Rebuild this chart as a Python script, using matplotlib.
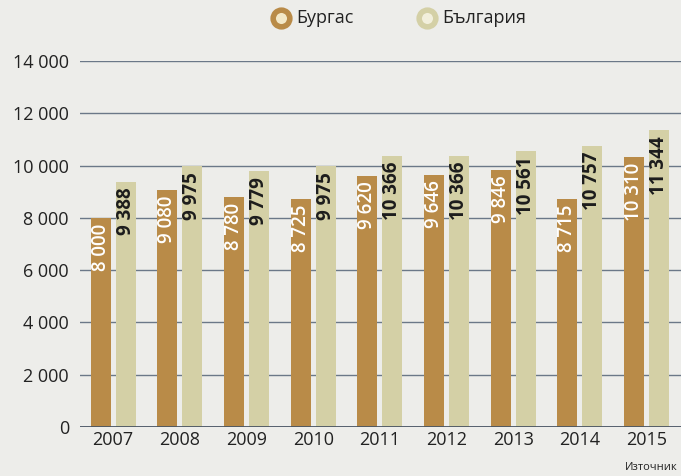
import numpy as np
import matplotlib.pyplot as plt

# данни
years = ["2007", "2008", "2009", "2010", "2011", "2012", "2013", "2014", "2015"]
burgas = [8000, 9080, 8780, 8725, 9620, 9646, 9846, 8715, 10310]
bulgaria = [9388, 9975, 9779, 9975, 10366, 10366, 10561, 10757, 11344]
yticks = [0, 2000, 4000, 6000, 8000, 10000, 12000, 14000]

c_burgas = "#b98b48"
c_bg = "#d4d0a6"
c_grid = "#6b7888"
bg = "#ededea"

plt.rcParams['font.family'] = ['Open Sans', 'DejaVu Sans']


def fmt(v):
    return f"{v:,}".replace(",", " ")


fig = plt.figure(figsize=(6.81, 4.76), dpi=100, facecolor=bg)
ax = fig.add_axes([80 / 681, 1 - 427 / 476, 601 / 681, 366 / 476], facecolor=bg)

x = np.arange(len(years))
w = 0.30
off = 0.1875

for yv in yticks[1:]:
    ax.axhline(yv, color=c_grid, lw=1.0, zorder=0)

ax.bar(x - off, burgas, w, color=c_burgas, zorder=2)
ax.bar(x + off, bulgaria, w, color=c_bg, zorder=2)
ax.axhline(0, color="#4a5563", lw=1.3, zorder=3)

for i in range(len(years)):
    ax.text(x[i] - off, burgas[i] - 220, fmt(burgas[i]), rotation=90,
            ha="center", va="top", color="white", fontsize=13.5,
            fontweight="semibold", zorder=4)
    ax.text(x[i] + off, bulgaria[i] - 220, fmt(bulgaria[i]), rotation=90,
            ha="center", va="top", color="#1c1c1c", fontsize=13.5,
            fontweight="bold", zorder=4)

ax.set_xlim(-0.495, 8.515)
ax.set_ylim(0, 14000)
ax.set_xticks(x)
ax.set_xticklabels(years, fontsize=13, color="#222222")
ax.set_yticks(yticks)
ax.set_yticklabels([fmt(v) for v in yticks], fontsize=13, color="#222222")
ax.tick_params(axis="both", length=0)
ax.tick_params(axis="y", pad=8)
ax.tick_params(axis="x", pad=3)
for s in ax.spines.values():
    s.set_visible(False)

# легенда
leg_ax = fig.add_axes([0, 1 - 36 / 476, 1, 36 / 476], facecolor="none")
leg_ax.set_xlim(0, 681)
leg_ax.set_ylim(36, 0)
leg_ax.axis("off")
leg_ax.plot([281], [18], "o", ms=12, mfc="#f3e8c8", mec=c_burgas, mew=4)
leg_ax.text(296, 18, "Бургас", va="center", ha="left", fontsize=13, color="#222222")
leg_ax.plot([427], [18], "o", ms=12, mfc="#f2efdc", mec=c_bg, mew=4)
leg_ax.text(442, 18, "България", va="center", ha="left", fontsize=13, color="#222222")

fig.text(678 / 681, 1 - 467 / 476, "Източник", fontsize=8, color="#222222",
         va="center", ha="right")

fig.savefig("out.png", dpi=100, facecolor=bg)
